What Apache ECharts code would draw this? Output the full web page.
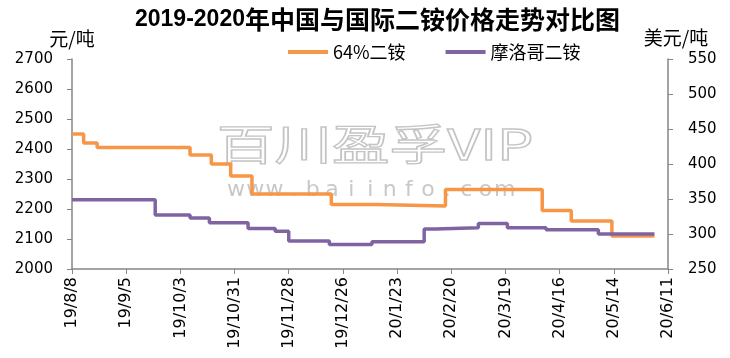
<!DOCTYPE html>
<html>
<head>
<meta charset="utf-8">
<script src="https://cdn.jsdelivr.net/npm/echarts@6/dist/echarts.min.js"></script>
<style>
html,body{margin:0;padding:0;background:#fff;}
#chart{width:730px;height:358px;}
</style>
</head>
<body>
<div id="chart"></div>
<script>
const startDate = '2019-08-08';
const xTickLabels = ['19/8/8','19/9/5','19/10/3','19/10/31','19/11/28','19/12/26','20/1/23','20/2/20','20/3/19','20/4/16','20/5/14','20/6/11'];
const tickStepDays = 28;
const leftTicks = [2000, 2700, 100];
const rightTicks = [250, 550, 50];

const seriesNames = ['64%二铵', '摩洛哥二铵'];
const dap64Dates = ['2019-08-08','2019-08-14','2019-08-21','2019-10-08','2019-10-19','2019-10-29','2019-11-09','2019-12-20','2020-01-12','2020-02-17','2020-04-07','2020-04-22','2020-05-13','2020-06-04'];
const dap64Values = [2450,2420,2405,2380,2350,2310,2250,2215,2210,2265,2195,2160,2110,2110];
const moroccoDates = ['2019-08-08','2019-09-20','2019-10-08','2019-10-18','2019-11-07','2019-11-21','2019-11-28','2019-12-19','2020-01-10','2020-02-06','2020-02-12','2020-03-05','2020-03-20','2020-04-09','2020-05-06','2020-06-04'];
const moroccoValues = [349,327,323,316,308,304,290,285,289,307,309,315,309,306,300,300];

const DAY = 86400000;
function dayOffset(s) {
  const p = s.split('-').map(Number);
  const q = startDate.split('-').map(Number);
  return Math.round((Date.UTC(p[0], p[1]-1, p[2]) - Date.UTC(q[0], q[1]-1, q[2])) / DAY);
}
function pairs(dates, vals) { return dates.map((d, i) => [dayOffset(d), vals[i]]); }

const axisColor = '#868686';
const labelFont = { color: '#000', fontFamily: 'DejaVu Sans', fontSize: 15 };

const chart = echarts.init(document.getElementById('chart'), null, { renderer: 'canvas' });

const wmChars = 'www.baiinfo.com'.split('');
const graphics = [
  {
    type: 'text', x: 217, y: 144, z: 0, scaleX: 1.37, silent: true,
    style: { text: '百川盈孚VIP', font: '42px "Noto Sans CJK SC"', fill: 'rgba(255,255,255,0)', stroke: '#c4c4c4', lineWidth: 1.3, align: 'left', verticalAlign: 'middle' }
  }
].concat(wmChars.map((c, i) => ({
  type: 'text', x: 236 + 19.2 * i, y: 190, z: 0, silent: true,
  style: { text: c, font: '22px "DejaVu Sans"', fill: '#c8c8c8', align: 'center', verticalAlign: 'middle' }
})));

chart.setOption({
  animation: false,
  backgroundColor: '#fff',
  title: {
    text: '{a|2019-2020}{b|年中国与国际二铵价格走势对比图}',
    left: 130, top: 2,
    textStyle: {
      rich: {
        a: { fontFamily: 'Liberation Sans', fontWeight: 'bold', fontSize: 23, color: '#000' },
        b: { fontFamily: 'Noto Sans CJK SC', fontWeight: 'bold', fontSize: 25, color: '#000' }
      }
    }
  },
  legend: {
    data: seriesNames,
    left: 283, top: 38,
    icon: 'rect', itemWidth: 40, itemHeight: 4, itemGap: 40,
    textStyle: { fontFamily: 'Noto Sans CJK SC', fontSize: 18, color: '#000' }
  },
  grid: { left: 72, right: 62, top: 59, bottom: 89, containLabel: false, outerBoundsMode: 'none' },
  xAxis: {
    type: 'value', min: 0, max: tickStepDays * (xTickLabels.length - 1), interval: tickStepDays,
    axisLine: { show: true, lineStyle: { color: axisColor, width: 1.5 } },
    axisTick: { show: true, length: 5, lineStyle: { color: axisColor } },
    splitLine: { show: false },
    axisLabel: Object.assign({ rotate: 90, margin: 8, formatter: v => xTickLabels[Math.round(v / tickStepDays)] || '' }, labelFont, { fontSize: 16 })
  },
  yAxis: [
    {
      type: 'value', min: leftTicks[0], max: leftTicks[1], interval: leftTicks[2], position: 'left',
      name: '元/吨', nameGap: 11, nameTextStyle: { fontFamily: 'Noto Sans CJK SC', fontSize: 19, color: '#000' },
      axisLine: { show: true, lineStyle: { color: axisColor, width: 1.5 } },
      axisTick: { show: true, length: 5, lineStyle: { color: axisColor } },
      splitLine: { show: false },
      axisLabel: Object.assign({ margin: 19, formatter: v => String(v) }, labelFont)
    },
    {
      type: 'value', min: rightTicks[0], max: rightTicks[1], interval: rightTicks[2], position: 'right',
      name: '美元/吨', nameGap: 12, nameTextStyle: { fontFamily: 'Noto Sans CJK SC', fontSize: 19, color: '#000', padding: [0, 0, 0, 16] },
      axisLine: { show: true, lineStyle: { color: axisColor, width: 1.5 } },
      axisTick: { show: true, length: 5, lineStyle: { color: axisColor } },
      splitLine: { show: false },
      axisLabel: Object.assign({ margin: 20, formatter: v => String(v) }, labelFont)
    }
  ],
  graphic: graphics,
  series: [
    {
      name: seriesNames[0], type: 'line', yAxisIndex: 0, step: 'end', showSymbol: false, symbol: 'none',
      data: pairs(dap64Dates, dap64Values), color: '#F79646',
      lineStyle: { width: 3.5, color: '#F79646' }, z: 3
    },
    {
      name: seriesNames[1], type: 'line', yAxisIndex: 1, step: 'end', showSymbol: false, symbol: 'none',
      data: pairs(moroccoDates, moroccoValues), color: '#8064A2',
      lineStyle: { width: 3.5, color: '#8064A2' }, z: 4
    }
  ]
});
</script>
</body>
</html>
